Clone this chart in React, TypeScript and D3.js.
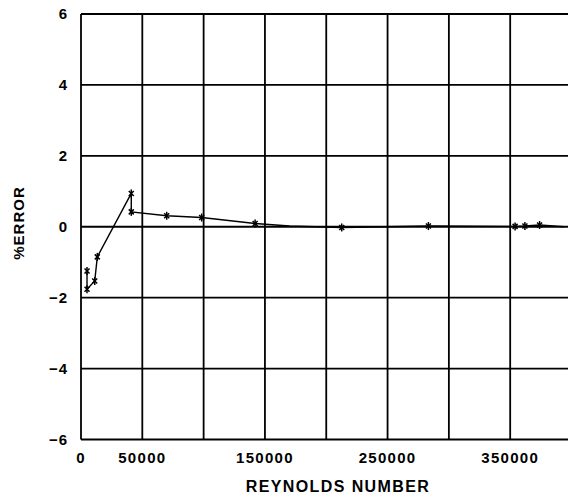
import React from "react";
import * as d3 from "d3";

const reynolds = [4900, 4900, 11200, 13300, 41000, 41000, 69900, 98400, 142000, 170000, 212600, 283300, 354000, 362000, 374000, 394000];
const pctError = [-1.25, -1.76, -1.53, -0.85, 0.94, 0.42, 0.31, 0.26, 0.09, 0.02, -0.02, 0.02, 0.01, 0.02, 0.05, 0.0];
const markerShown = [true, true, true, true, true, true, true, true, true, false, true, true, true, true, true, false];
const xTicks = [0, 50000, 150000, 250000, 350000];
const xGrid = [0, 50000, 100000, 150000, 200000, 250000, 300000, 350000, 400000];
const yTicks = [-6, -4, -2, 0, 2, 4, 6];

const W = 568, H = 498;
const left = 81, right = 571.5, top = 14, bottom = 439.5;

export default function App() {
  const x = d3.scaleLinear().domain([0, 400000]).range([left, right]);
  const y = d3.scaleLinear().domain([-6, 6]).range([bottom, top]);
  const pts = reynolds.map((r, i) => [x(r), y(pctError[i])] as [number, number]);
  const line = d3.line()(pts) || "";
  const font = "'Liberation Sans', Arial, Helvetica, sans-serif";
  return (
    <svg width={W} height={H} style={{ position: "absolute", left: 0, top: 0, background: "#fff" }}>
      <g stroke="#000" strokeWidth={1.8}>
        {xGrid.map((v) => (
          <line key={"gx" + v} x1={x(v)} x2={x(v)} y1={top} y2={bottom} />
        ))}
        {yTicks.map((v) => (
          <line key={"gy" + v} x1={left} x2={right} y1={y(v)} y2={y(v)} />
        ))}
      </g>
      <path d={line} fill="none" stroke="#000" strokeWidth={1.4} />
      <g stroke="#000" strokeWidth={1.5} fill="none">
        {pts.map((p, i) =>
          markerShown[i] ? (
            <g key={"m" + i} transform={`translate(${p[0]},${p[1]})`}>
              <line x1={0} x2={0} y1={-4} y2={4} />
              <line x1={-2.5} x2={2.5} y1={-2.5} y2={2.5} />
              <line x1={-2.5} x2={2.5} y1={2.5} y2={-2.5} />
            </g>
          ) : null
        )}
      </g>
      <g fontFamily={font} fontWeight="bold" fontSize={15} fill="#000">
        {yTicks.map((v) => (
          <text key={"yt" + v} x={68} y={y(v)} dy="0.35em" textAnchor="end" letterSpacing={1}>
            {v < 0 ? "\u2212" + Math.abs(v) : String(v)}
          </text>
        ))}
        {xTicks.map((v) => (
          <text key={"xt" + v} x={x(v)} y={463} textAnchor="middle" letterSpacing={1.3}>
            {String(v)}
          </text>
        ))}
        <text x={338} y={492} textAnchor="middle" fontSize={16} letterSpacing={1.4}>
          REYNOLDS NUMBER
        </text>
        <text transform={`translate(24,223) rotate(-90)`} textAnchor="middle" fontSize={15} letterSpacing={1}>
          %ERROR
        </text>
      </g>
    </svg>
  );
}
